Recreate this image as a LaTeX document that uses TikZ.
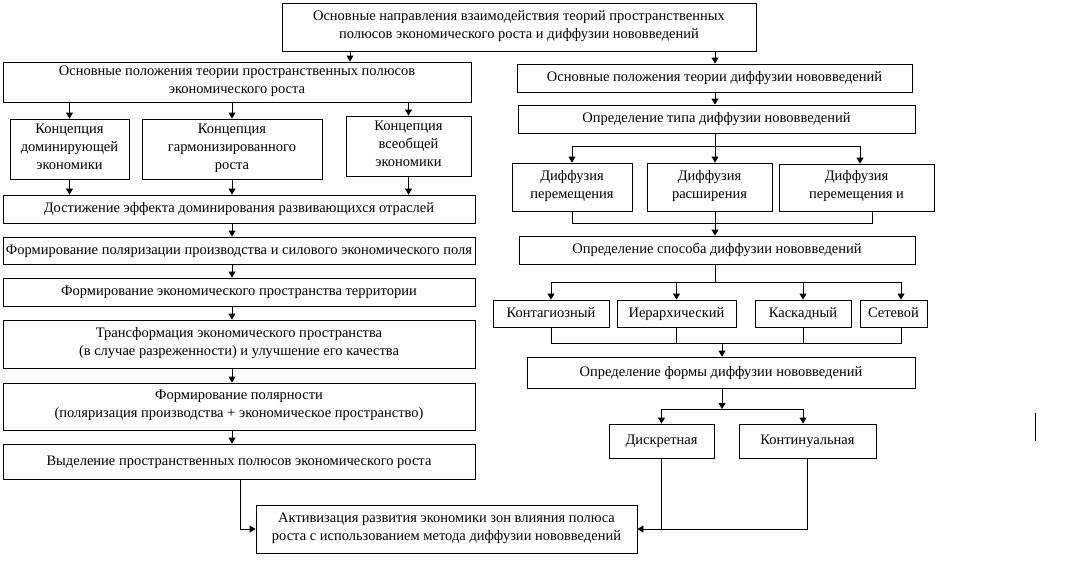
\documentclass[tikz,border=0pt]{standalone}
\usepackage{fontspec}
\setmainfont{Liberation Serif}
\usetikzlibrary{arrows.meta,positioning}

\begin{document}
\begin{tikzpicture}[
  x=1pt,y=-1pt,
  box/.style={draw,line width=0.9pt,fill=white,inner sep=0pt,align=center,
              font=\fontsize{14.5}{18}\selectfont,
              execute at begin node=\strut,execute at end node=\strut},
  arrow/.style={-{Triangle[length=6pt,width=7pt]},line width=0.9pt},
  link/.style={line width=0.9pt}
]
  \useasboundingbox[fill=white] (0,0) rectangle (1075,563);

  \coordinate (goalleft) at (350,0);
  \coordinate (lspine) at (232,0);
  \coordinate (polesout) at (240,0);
  \coordinate (rspine) at (715,0);
  \coordinate (mixcol) at (860,0);
  \coordinate (joinright) at (872,0);
  \coordinate (netcol) at (901,0);
  \coordinate (contcol) at (803,0);
  \coordinate (typefork) at (715,146);
  \coordinate (typejoin) at (715,223);
  \coordinate (wayfork) at (715,282);
  \coordinate (wayjoin) at (722,343);
  \coordinate (formfork) at (722,409);

  \node[box,minimum width=474,minimum height=48] (goal) at (519,27)
    {Основные направления взаимодействия теорий пространственных\\полюсов экономического роста и диффузии нововведений};

  \node[box,minimum width=468,minimum height=40] (polebase) at (237,82)
    {Основные положения теории пространственных полюсов\\экономического роста};
  \node[box,minimum width=119,minimum height=60] (concdom) at (69.5,149) {Концепция\\доминирующей\\экономики};
  \node[box,minimum width=180,minimum height=60] (concharm) at (232,149) {Концепция\\гармонизированного\\роста};
  \node[box,minimum width=125,minimum height=60] (concall) at (408.5,146) {Концепция\\всеобщей\\экономики};
  \node[box,minimum width=472,minimum height=28] (dominance) at (239,209)
    {Достижение эффекта доминирования развивающихся отраслей};
  \node[box,minimum width=472,minimum height=27] (polarization) at (239,250.5)
    {Формирование поляризации производства и силового экономического поля};
  \node[box,minimum width=472,minimum height=28] (space) at (239,292)
    {Формирование экономического пространства территории};
  \node[box,minimum width=472,minimum height=48] (transform) at (239,344)
    {Трансформация экономического пространства\\(в случае разреженности) и улучшение его качества};
  \node[box,minimum width=472,minimum height=47] (polarity) at (239,406.5)
    {Формирование полярности\\(поляризация производства + экономическое пространство)};
  \node[box,minimum width=472,minimum height=35] (poles) at (239,461.5)
    {Выделение пространственных полюсов экономического роста};

  \node[box,minimum width=381,minimum height=48] (activation) at (446.5,529)
    {Активизация развития экономики зон влияния полюса\\роста с использованием метода диффузии нововведений};

  \node[box,minimum width=395,minimum height=28] (diffbase) at (714.5,78)
    {Основные положения теории диффузии нововведений};
  \node[box,minimum width=397,minimum height=28] (difftype) at (716.5,119)
    {Определение типа диффузии нововведений};
  \node[box,minimum width=120,minimum height=48] (diffmove) at (572,187) {Диффузия\\перемещения};
  \node[box,minimum width=125,minimum height=48] (diffgrow) at (709.5,187) {Диффузия\\расширения};
  \node[box,minimum width=155,minimum height=47] (diffmix) at (856.5,187.5) {Диффузия\\перемещения и};
  \node[box,minimum width=396,minimum height=28] (diffway) at (717,250)
    {Определение способа диффузии нововведений};
  \node[box,minimum width=116,minimum height=27] (waycont) at (551,313.5) {Контагиозный};
  \node[box,minimum width=119,minimum height=27] (wayhier) at (676.5,313.5) {Иерархический};
  \node[box,minimum width=96,minimum height=27] (waycasc) at (803,313.5) {Каскадный};
  \node[box,minimum width=67,minimum height=27] (waynet) at (893.5,313.5) {Сетевой};
  \node[box,minimum width=388,minimum height=31] (diffform) at (721,372.5)
    {Определение формы диффузии нововведений};
  \node[box,minimum width=105,minimum height=34] (formdisc) at (661.5,441) {Дискретная};
  \node[box,minimum width=137,minimum height=34] (formcont) at (807.5,441) {Континуальная};

  \draw[arrow] (goal.south -| goalleft) -- (polebase.north -| goalleft);
  \draw[arrow] (goal.south -| rspine) -- (diffbase.north -| rspine);

  \draw[arrow] (polebase.south -| concdom) -- (concdom.north);
  \draw[arrow] (polebase.south -| concharm) -- (concharm.north);
  \draw[arrow] (polebase.south -| concall) -- (concall.north);
  \draw[arrow] (concdom.south) -- (dominance.north -| concdom);
  \draw[arrow] (concharm.south) -- (dominance.north -| concharm);
  \draw[arrow] (concall.south) -- (dominance.north -| concall);
  \draw[arrow] (dominance.south -| lspine) -- (polarization.north -| lspine);
  \draw[arrow] (polarization.south -| lspine) -- (space.north -| lspine);
  \draw[arrow] (space.south -| lspine) -- (transform.north -| lspine);
  \draw[arrow] (transform.south -| lspine) -- (polarity.north -| lspine);
  \draw[arrow] (polarity.south -| lspine) -- (poles.north -| lspine);
  \draw[arrow] (poles.south -| polesout) |- (activation.west);

  \draw[arrow] (diffbase.south -| rspine) -- (difftype.north -| rspine);
  \draw[link] (difftype.south -| rspine) -- (typefork);
  \draw[arrow] (typefork) -| (diffmove.north);
  \draw[arrow] (typefork) -- (diffgrow.north -| typefork);
  \draw[arrow] (typefork) -| (diffmix.north -| mixcol);
  \draw[link] (diffmove.south) |- (typejoin -| joinright) -- (diffmix.south -| joinright);
  \draw[arrow] (diffgrow.south -| rspine) -- (diffway.north -| rspine);

  \draw[link] (diffway.south -| rspine) -- (wayfork);
  \draw[link] (wayfork -| waycont) -- (wayfork -| netcol);
  \draw[arrow] (wayfork -| waycont) -- (waycont.north);
  \draw[arrow] (wayfork -| wayhier) -- (wayhier.north);
  \draw[arrow] (wayfork -| waycasc) -- (waycasc.north);
  \draw[arrow] (wayfork -| netcol) -- (waynet.north -| netcol);
  \draw[link] (waycont.south) |- (wayjoin -| netcol) -- (waynet.south -| netcol);
  \draw[link] (wayhier.south) -- (wayhier.south |- wayjoin);
  \draw[link] (waycasc.south) -- (waycasc.south |- wayjoin);
  \draw[arrow] (wayjoin) -- (diffform.north -| wayjoin);

  \draw[arrow] (diffform.south -| formfork) -- (formfork);
  \draw[arrow] (formfork) -| (formdisc.north);
  \draw[arrow] (formfork) -| (formcont.north -| contcol);
  \draw[link] (formdisc.south) -- (formdisc.south |- activation.east);
  \draw[arrow] (formcont.south) |- (activation.east);

  \coordinate (marktop) at (1035,413);
  \coordinate (markbot) at (1035,441);
  \draw[link] (marktop) -- (markbot);
\end{tikzpicture}
\end{document}
